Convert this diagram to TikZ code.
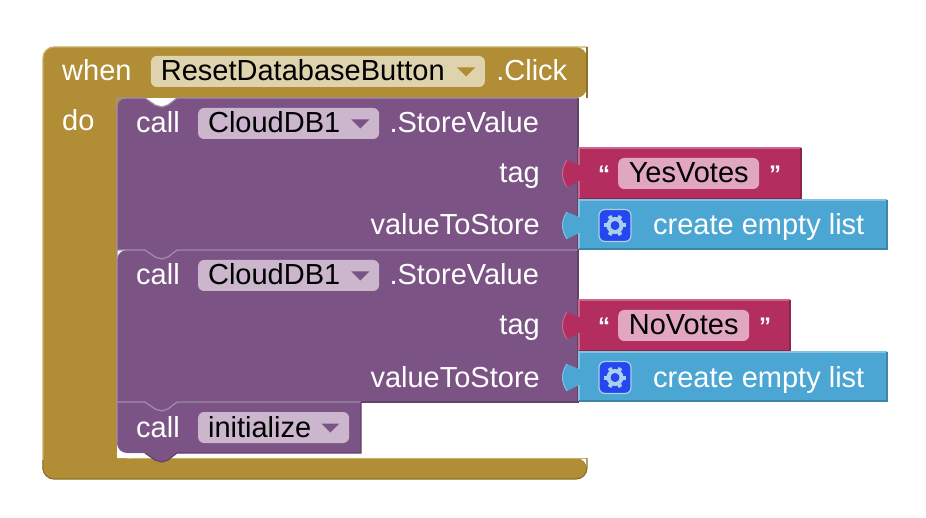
\documentclass[tikz,border=0pt]{standalone}
\usepackage{fontspec}
\setmainfont{Liberation Sans}
\usetikzlibrary{positioning}
\definecolor{gold}{HTML}{B18E35}
\definecolor{goldlt}{HTML}{C9AE68}
\definecolor{golddk}{HTML}{8E722A}
\definecolor{goldfield}{HTML}{DFD3AE}
\definecolor{purp}{HTML}{7C5385}
\definecolor{purplt}{HTML}{A38DAA}
\definecolor{purpdk}{HTML}{634269}
\definecolor{purpfield}{HTML}{CBB6CE}
\definecolor{mag}{HTML}{B32D5E}
\definecolor{maglt}{HTML}{CC668C}
\definecolor{magdk}{HTML}{8F244B}
\definecolor{magfield}{HTML}{E1A6C0}
\definecolor{sky}{HTML}{4CA6D4}
\definecolor{skylt}{HTML}{82C1E1}
\definecolor{skydk}{HTML}{3D85AA}
\definecolor{gearbg}{HTML}{2447F0}
\definecolor{gearfg}{HTML}{A9CFEA}
\tikzset{
    lbl/.style={text=white,inner sep=0pt,font=\fontsize{29}{32}\selectfont},
    lblbase/.style={lbl,anchor=base west},
    lblend/.style={lbl,anchor=base east},
    field/.style={text=black,rounded corners=6pt,inner xsep=10pt,inner ysep=0pt,
        text height=25pt,text depth=6pt,font=\fontsize{29}{32}\selectfont},
    goldpill/.style={field,fill=goldfield},
    purppill/.style={field,fill=purpfield},
    magpill/.style={field,fill=magfield},
    quote/.style={text=white,inner sep=0pt,anchor=base,font=\fontsize{24}{24}\bfseries\selectfont}
}
% stack block: top y, bottom y, right x
\newcommand{\stackblock}[3]{
    \fill[purp] (117,#1+10) arc[start angle=180,end angle=270,radius=10] -- (145,#1) -- (155,#1+7)
        -- (162,#1+9) -- (168,#1+7) -- (177,#1) -- (#3,#1) -- (#3,#2) -- (177,#2) -- (168,#2+7)
        -- (162,#2+9) -- (155,#2+7) -- (145,#2) -- (117,#2) -- cycle;
    \draw[purplt,line width=1.2pt] (117,#2) -- (117,#1) -- (145,#1) -- (155,#1+7) -- (162,#1+9)
        -- (168,#1+7) -- (177,#1) -- (#3,#1);
    \draw[purpdk,line width=1.2pt] (#3,#1) -- (#3,#2) -- (177,#2);
}
% value block: top y, bottom y, right x, fill, light, dark
\newcommand{\valueblock}[6]{
    \fill[#4] (579,#1) -- (#3,#1) -- (#3,#2) -- (579,#2) -- (579,#1+33) -- (567,#1+39)
        .. controls (561,#1+30) and (561,#1+21) .. (567,#1+12) -- (579,#1+17) -- cycle;
    \draw[#5,line width=1.2pt] (579,#2) -- (579,#1+33) (579,#1+17) -- (579,#1) -- (#3,#1);
    \draw[#5,line width=1pt] (567,#1+39) .. controls (561,#1+30) and (561,#1+21) .. (567,#1+12);
    \draw[#6,line width=1.4pt] (#3,#1) -- (#3,#2) -- (579,#2);
}
\newcommand{\dropmark}[2]{
    \fill[#2] ([xshift=-28pt,yshift=4pt]#1.east) -- ([xshift=-10pt,yshift=4pt]#1.east)
        -- ([xshift=-19pt,yshift=-5pt]#1.east) -- cycle;
}
\newcommand{\gearicon}[3]{
    \node[fill=gearbg,draw=gearfg,line width=1.2pt,rounded corners=6pt,minimum size=32pt] (#1) at (#2,#3) {};
    \foreach \a in {0,60,...,300}
        \draw[gearfg,line width=4pt] (#1.center) ++(\a:7pt) -- ++(\a:4pt);
    \draw[gearfg,line width=4pt] (#1.center) circle (6.5pt);
}
\begin{document}
\begin{tikzpicture}[x=1pt,y=-1pt]
    \useasboundingbox (0,0) rectangle (926,518);
    % outer event block
    \fill[gold,rounded corners=11pt] (43,47) -- (587,47) -- (587,98) -- (117,98) -- (117,458)
        -- (587,458) -- (587,479) -- (43,479) -- cycle;
    \draw[goldlt,line width=1.2pt,rounded corners=11pt] (43,470) -- (43,47) -- (587,47);
    \draw[goldlt,line width=1.2pt] (127,458.6) -- (587,458.6);
    \draw[golddk,line width=1.2pt,rounded corners=11pt] (587,47) -- (587,98);
    \draw[golddk,line width=1.2pt,rounded corners=11pt] (587,458) -- (587,479) -- (43,479) -- (43,460);
    % white corner inside the bottom bar
    \stackblock{98}{250}{578}
    \stackblock{250}{402}{578}
    \fill[white] (117,443) -- (117,458) -- (132,458) .. controls (123,457) and (118,452) .. cycle;
    \fill[purp] (117,402) -- (361,402) -- (361,453) -- (177,453) -- (168,460) -- (162,462)
        -- (155,460) -- (145,453) -- (127,453) arc[start angle=90,end angle=180,radius=10] -- cycle;
    \draw[purplt,line width=1.2pt] (117,443) -- (117,402) -- (145,402) -- (155,409) -- (162,411)
        -- (168,409) -- (177,402) -- (361,402);
    \draw[purpdk,line width=1.2pt] (361,402) -- (361,453) -- (177,453) -- (168,460) -- (162,462)
        -- (155,460) -- (145,453);
    % value blocks
    \valueblock{148}{199}{801}{mag}{maglt}{magdk}
    \valueblock{200}{249}{887}{sky}{skylt}{skydk}
    \valueblock{300}{351}{790}{mag}{maglt}{magdk}
    \valueblock{352}{401}{887}{sky}{skylt}{skydk}
    % first line
    \node[lblbase] (when) at (62,81) {when};
    \node[goldpill,base right=19pt of when,minimum width=334pt] (reset) {\makebox[314pt][l]{ResetDatabaseButton}};
    \node[lbl,base right=11pt of reset] (click) {.Click};
    \node[lblbase] (do) at (62,131) {do};
    \dropmark{reset}{gold}
    % first store call
    \node[lblbase] (callA) at (136,133) {call};
    \node[purppill,base right=18pt of callA,minimum width=181pt] (cloudA) {\makebox[161pt][l]{CloudDB1}};
    \node[lbl,base right=10pt of cloudA] (storeA) {.StoreValue};
    \node[lblend] (tagA) at (540,183) {tag};
    \node[lblend] (valueA) at (540,235) {valueToStore};
    \dropmark{cloudA}{purp}
    \node[quote] (openA) at (604,183) {“};
    \node[magpill,anchor=base west,minimum width=141pt] (yes) at (618,183) {YesVotes};
    \node[quote] (closeA) at (775,183) {”};
    \gearicon{gearA}{615}{225.5}
    \node[lblbase] (listA) at (653,235) {create empty list};
    % second store call
    \node[lblbase] (callB) at (136,285) {call};
    \node[purppill,base right=18pt of callB,minimum width=181pt] (cloudB) {\makebox[161pt][l]{CloudDB1}};
    \node[lbl,base right=10pt of cloudB] (storeB) {.StoreValue};
    \node[lblend] (tagB) at (540,335) {tag};
    \node[lblend] (valueB) at (540,387) {valueToStore};
    \dropmark{cloudB}{purp}
    \node[quote] (openB) at (604,335) {“};
    \node[magpill,anchor=base west,minimum width=131pt] (no) at (618,335) {NoVotes};
    \node[quote] (closeB) at (765,335) {”};
    \gearicon{gearB}{615}{377.5}
    \node[lblbase] (listB) at (653,387) {create empty list};
    % last call
    \node[lblbase] (callC) at (136,437) {call};
    \node[purppill,base right=18pt of callC,minimum width=151pt] (init) {\makebox[131pt][l]{initialize}};
    \dropmark{init}{purp}
\end{tikzpicture}
\end{document}
